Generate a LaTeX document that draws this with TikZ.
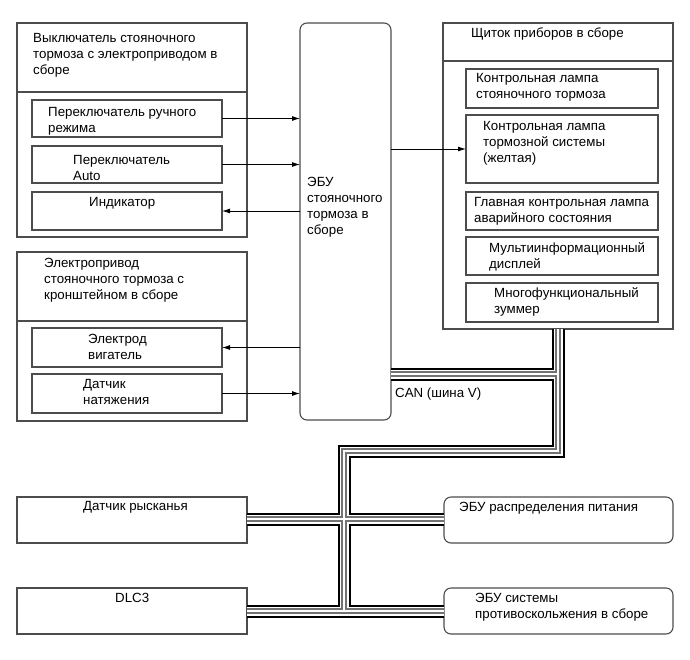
\documentclass[tikz,border=0pt]{standalone}
\usepackage{fontspec}
\setmainfont{Liberation Sans}
\usetikzlibrary{arrows.meta}
\definecolor{boxline}{gray}{0.3}
\definecolor{busgray}{gray}{0.45}
\tikzset{
  box/.style={draw=boxline, line width=1.1pt, anchor=north west, inner sep=0pt, outer sep=0pt},
  rbox/.style={box, rounded corners=7pt},
  txt/.style={anchor=north west, inner sep=0pt, align=left, font=\fontsize{13.3}{16}\selectfont},
  arr/.style={draw=black, line width=0.9pt, -{Latex[length=8pt,width=5pt]}},
}
\begin{document}
\begin{tikzpicture}[x=1pt,y=-1pt]
\useasboundingbox (0,0) rectangle (690,659);
% switch assembly
\node[box, minimum width=230pt, minimum height=214pt] (sw) at (17,23) {};
\draw[draw=boxline, line width=1.1pt] (sw.west |- 0,92) coordinate (swdl) -- (sw.east |- 0,92) coordinate (swdr);
\node[txt] (swt) at (33,33) {Выключатель стояночного\\тормоза с электроприводом в\\сборе};
\node[box, minimum width=190pt, minimum height=37pt] (man) at (32,100) {};
\node[txt] (mant) at (48,107) {Переключатель ручного\\режима};
\node[box, minimum width=190pt, minimum height=37pt] (auto) at (32,146) {};
\node[txt] (autot) at (73,155) {Переключатель\\Auto};
\node[box, minimum width=190pt, minimum height=38pt] (ind) at (32,192) {};
\node[txt] (indt) at (89,197) {Индикатор};
% actuator assembly
\node[box, minimum width=230pt, minimum height=169pt] (act) at (17,252) {};
\draw[draw=boxline, line width=1.1pt] (act.west |- 0,321) coordinate (actdl) -- (act.east |- 0,321) coordinate (actdr);
\node[txt] (actt) at (44,258) {Электропривод\\стояночного тормоза с\\кронштейном в сборе};
\node[box, minimum width=190pt, minimum height=39pt] (mot) at (32,328) {};
\node[txt] (mott) at (88,334) {Электрод\\вигатель};
\node[box, minimum width=190pt, minimum height=39pt] (ten) at (32,374) {};
\node[txt] (tent) at (83,379) {Датчик\\натяжения};
% ECU
\node[rbox, minimum width=91pt, minimum height=397pt] (ecu) at (300,23) {};
\node[txt] (ecut) at (307,177) {ЭБУ\\стояночного\\тормоза в\\сборе};
% instrument panel
\node[box, minimum width=230pt, minimum height=306pt] (pan) at (443,23) {};
\draw[draw=boxline, line width=1.1pt] (pan.west |- 0,61) coordinate (pandl) -- (pan.east |- 0,61) coordinate (pandr);
\node[txt] (pant) at (471,28) {Щиток приборов в сборе};
\node[box, minimum width=192pt, minimum height=39pt] (la) at (466,69) {};
\node[txt] (lat) at (476,73) {Контрольная лампа\\стояночного тормоза};
\node[box, minimum width=192pt, minimum height=68pt] (lb) at (466,115) {};
\node[txt] (lbt) at (483,121) {Контрольная лампа\\тормозной системы\\(желтая)};
\node[box, minimum width=192pt, minimum height=38pt] (lc) at (466,192) {};
\node[txt] (lct) at (474,197) {Главная контрольная лампа\\аварийного состояния};
\node[box, minimum width=192pt, minimum height=38pt] (ld) at (466,237) {};
\node[txt] (ldt) at (489,242) {Мультиинформационный\\дисплей};
\node[box, minimum width=192pt, minimum height=39pt] (le) at (466,283) {};
\node[txt] (let) at (494,287) {Многофункциональный\\зуммер};
% bottom boxes
\node[box, minimum width=230pt, minimum height=46pt] (yaw) at (17,497) {};
\node[txt] (yawt) at (83,501) {Датчик рысканья};
\node[box, minimum width=230pt, minimum height=46pt] (dlc) at (17,588) {};
\node[txt] (dlct) at (115,593) {DLC3};
\node[rbox, minimum width=229pt, minimum height=46pt] (pwr) at (444,497) {};
\node[txt] (pwrt) at (459,502) {ЭБУ распределения питания};
\node[rbox, minimum width=229pt, minimum height=46pt] (skid) at (444,588) {};
\node[txt] (skidt) at (475,593) {ЭБУ системы\\противоскольжения в сборе};
\node[txt] (can) at (395,388) {CAN (шина V)};
% arrows
\draw[arr] (man.east) -- (man.east -| ecu.west);
\draw[arr] (auto.east) -- (auto.east -| ecu.west);
\draw[arr] (ind.east -| ecu.west) -- (ind.east);
\draw[arr] (lb.west -| ecu.east) -- (lb.west);
\draw[arr] (mot.east -| ecu.west) -- (mot.east);
\draw[arr] (ten.east) -- (ten.east -| ecu.west);
% CAN bus
\coordinate (b1) at (ecu.east |- 0,374);
\coordinate (j1) at (558,374);
\coordinate (p0) at (pan.south -| 558,0);
\coordinate (c1) at (558,451);
\coordinate (c2) at (344,451);
\coordinate (t2) at (344,611);
\coordinate (y1) at (yaw.east |- 0,519);
\coordinate (y2) at (pwr.west |- 0,519);
\coordinate (d1) at (dlc.east |- 0,611);
\coordinate (d2) at (skid.west |- 0,611);
\foreach \w/\c in {13/black,9/white,5.5/busgray,2.5/white}{
  \draw[line width=\w pt, color=\c, line join=miter, line cap=butt]
    (b1) -- (j1) (p0) -- (c1) -- (c2) -- (t2) (y1) -- (y2) (d1) -- (d2);
}
\end{tikzpicture}
\end{document}
